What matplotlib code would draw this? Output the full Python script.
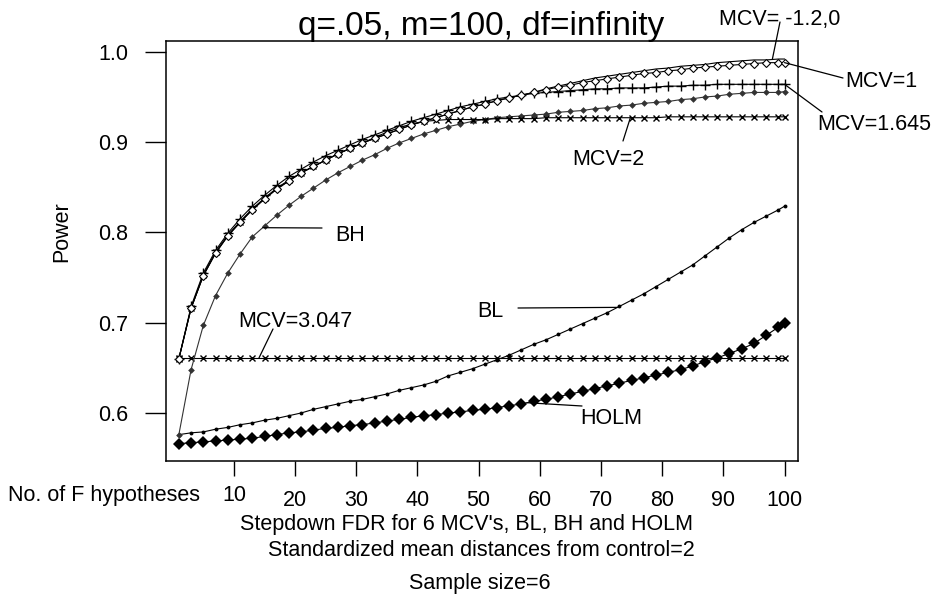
import numpy as np
import matplotlib
matplotlib.use("Agg")
import matplotlib.pyplot as plt

plt.rcParams['font.family'] = ['Liberation Sans', 'DejaVu Sans']

# number of false hypotheses (x positions of the computed points)
n_false = list(range(1, 100, 2)) + [100]

# power curves, one value per entry of n_false
mcv_neg = [0.660, 0.716, 0.752, 0.777, 0.796, 0.811, 0.825, 0.837, 0.848, 0.857,
           0.866, 0.873, 0.880, 0.887, 0.893, 0.899, 0.904, 0.909, 0.914, 0.919,
           0.923, 0.927, 0.931, 0.935, 0.939, 0.942, 0.946, 0.949, 0.952, 0.955,
           0.959, 0.962, 0.965, 0.968, 0.971, 0.973, 0.975, 0.977, 0.979, 0.981,
           0.982, 0.984, 0.985, 0.986, 0.988, 0.989, 0.990, 0.991, 0.991, 0.992,
           0.992]
mcv_1 = [0.660, 0.716, 0.752, 0.777, 0.796, 0.811, 0.825, 0.837, 0.848, 0.857,
         0.866, 0.873, 0.880, 0.887, 0.893, 0.899, 0.904, 0.909, 0.914, 0.919,
         0.923, 0.927, 0.931, 0.935, 0.939, 0.942, 0.946, 0.949, 0.952, 0.955,
         0.958, 0.961, 0.963, 0.966, 0.968, 0.970, 0.972, 0.974, 0.976, 0.977,
         0.979, 0.980, 0.982, 0.983, 0.984, 0.985, 0.986, 0.987, 0.988, 0.988,
         0.988]
mcv_1645 = [0.660, 0.718, 0.755, 0.780, 0.799, 0.815, 0.829, 0.841, 0.852, 0.862,
            0.870, 0.878, 0.885, 0.891, 0.897, 0.903, 0.908, 0.913, 0.918, 0.923,
            0.927, 0.931, 0.935, 0.939, 0.942, 0.945, 0.948, 0.950, 0.952, 0.954,
            0.955, 0.956, 0.957, 0.958, 0.959, 0.959, 0.960, 0.960, 0.960, 0.961,
            0.962, 0.962, 0.963, 0.963, 0.964, 0.964, 0.964, 0.964, 0.964, 0.964,
            0.964]
mcv_2 = [0.660, 0.716, 0.753, 0.778, 0.797, 0.812, 0.826, 0.838, 0.849, 0.858,
         0.866, 0.873, 0.880, 0.887, 0.893, 0.899, 0.905, 0.911, 0.916, 0.920,
         0.923, 0.924, 0.925, 0.925, 0.925, 0.925, 0.926, 0.926, 0.926, 0.926,
         0.927, 0.927, 0.927, 0.927, 0.927, 0.927, 0.927, 0.927, 0.927, 0.927,
         0.928, 0.928, 0.928, 0.928, 0.928, 0.928, 0.928, 0.928, 0.928, 0.928,
         0.928]
mcv_3047 = [0.661] * 51
bh = [0.576, 0.648, 0.697, 0.730, 0.755, 0.776, 0.795, 0.807, 0.819, 0.830,
      0.840, 0.849, 0.858, 0.866, 0.873, 0.880, 0.886, 0.893, 0.899, 0.904,
      0.909, 0.913, 0.917, 0.920, 0.923, 0.925, 0.927, 0.928, 0.929, 0.930,
      0.931, 0.933, 0.934, 0.935, 0.937, 0.938, 0.940, 0.941, 0.943, 0.944,
      0.945, 0.947, 0.948, 0.950, 0.951, 0.953, 0.954, 0.955, 0.955, 0.955,
      0.956]
bl = [0.576, 0.578, 0.579, 0.582, 0.584, 0.587, 0.589, 0.592, 0.594, 0.597,
      0.600, 0.604, 0.607, 0.610, 0.613, 0.615, 0.618, 0.621, 0.625, 0.628,
      0.631, 0.635, 0.641, 0.645, 0.649, 0.654, 0.659, 0.664, 0.670, 0.676,
      0.681, 0.687, 0.693, 0.699, 0.705, 0.711, 0.718, 0.725, 0.732, 0.740,
      0.748, 0.756, 0.764, 0.774, 0.784, 0.794, 0.803, 0.811, 0.818, 0.825,
      0.829]
holm = [0.566, 0.567, 0.568, 0.569, 0.570, 0.571, 0.572, 0.574, 0.576, 0.578,
        0.579, 0.581, 0.583, 0.584, 0.586, 0.587, 0.589, 0.591, 0.593, 0.595,
        0.597, 0.598, 0.600, 0.601, 0.603, 0.604, 0.606, 0.608, 0.610, 0.613,
        0.615, 0.618, 0.621, 0.624, 0.627, 0.630, 0.633, 0.636, 0.639, 0.642,
        0.645, 0.648, 0.652, 0.657, 0.661, 0.666, 0.671, 0.677, 0.686, 0.695,
        0.700]

x_ticks = [10, 20, 30, 40, 50, 60, 70, 80, 90, 100]
y_ticks = [0.6, 0.7, 0.8, 0.9, 1.0]

W, H = 935, 599
FS = 15.5


def fpos(px, py):
    # pixel position measured from the top-left corner -> figure fraction
    return px / W, 1 - py / H


fig = plt.figure(figsize=(W / 100, H / 100), dpi=100)
ax = fig.add_axes([166 / W, 1 - 461 / H, (798 - 166) / W, (461 - 40.7) / H])

lw = 0.8
ax.plot(n_false, mcv_3047, color='black', lw=lw, marker='x', ms=5, mew=1.0)
ax.plot(n_false, bl, color='black', lw=lw, marker='o', ms=2.8, mew=0)
ax.plot(n_false, holm, color='black', lw=lw, marker='D', ms=6, mew=0)
ax.plot(n_false, bh, color='#333333', lw=lw, marker='D', ms=3.4, mew=0)
ax.plot(n_false, mcv_2, color='black', lw=lw, marker='x', ms=5, mew=1.0)
ax.plot(n_false, mcv_1645, color='black', lw=lw, marker='+', ms=7.5, mew=1.0)
ax.plot(n_false, mcv_neg, color='black', lw=lw)
ax.plot(n_false, mcv_1, color='black', lw=lw, marker='D', ms=4.5, mew=0.8,
        mfc='white')

ax.set_xlim(-1.1, 102.2)
ax.set_ylim(0.5468, 1.0123)
ax.set_xticks(x_ticks)
ax.set_xticklabels([str(t) for t in x_ticks], fontsize=FS)
ax.set_yticks(y_ticks)
ax.set_yticklabels(['%.1f' % t for t in y_ticks], fontsize=FS)
ax.tick_params(axis='y', direction='out', length=15, width=1, pad=12)
ax.tick_params(axis='x', direction='out', length=10.8, width=1, pad=10.3)
ax.xaxis.get_major_ticks()[0].set_pad(6.5)
for s in ax.spines.values():
    s.set_linewidth(1.1)

# labels with leader lines: (text, text left/baseline, line start, curve x, series)
notes = [
    ('MCV= -1.2,0', (719, 25), (780, 22), 98.0, mcv_neg),
    ('MCV=1', (845, 87), (843, 78), 100, mcv_1),
    ('MCV=1.645', (817, 130), (822, 112), 100, mcv_1645),
    ('MCV=2', (572, 165), (623, 141), 74.8, mcv_2),
    ('BH', (335, 241), (322, 228), 14.7, bh),
    ('MCV=3.047', (238, 327), (273, 329), 14.1, mcv_3047),
    ('BL', (477, 317), (518, 308), 72.7, bl),
    ('HOLM', (580, 424), (582, 406), 57.9, holm),
]
for label, tpos, lpos, xc, series in notes:
    yc = np.interp(xc, n_false, series)
    ax.annotate('', xy=(xc, yc), xycoords='data',
                xytext=fpos(*lpos), textcoords='figure fraction',
                arrowprops=dict(arrowstyle='-', lw=0.9, color='black',
                                shrinkA=0, shrinkB=0),
                annotation_clip=False)
    fig.text(*fpos(*tpos), label, fontsize=FS, ha='left', va='baseline')

fig.text(*fpos(481, 35), 'q=.05, m=100, df=infinity', fontsize=24,
         ha='center', va='baseline')
fig.text(*fpos(62, 232), 'Power', fontsize=FS, rotation=90,
         ha='center', va='center')
fig.text(*fpos(8, 501.5), 'No. of F hypotheses', fontsize=FS,
         ha='left', va='baseline')
fig.text(*fpos(466, 530), "Stepdown FDR for 6 MCV's, BL, BH and HOLM",
         fontsize=FS, ha='center', va='baseline')
fig.text(*fpos(481, 556.5), 'Standardized mean distances from control=2',
         fontsize=FS, ha='center', va='baseline')
fig.text(*fpos(480, 589), 'Sample size=6', fontsize=FS,
         ha='center', va='baseline')

fig.savefig('out.png', dpi=100)
